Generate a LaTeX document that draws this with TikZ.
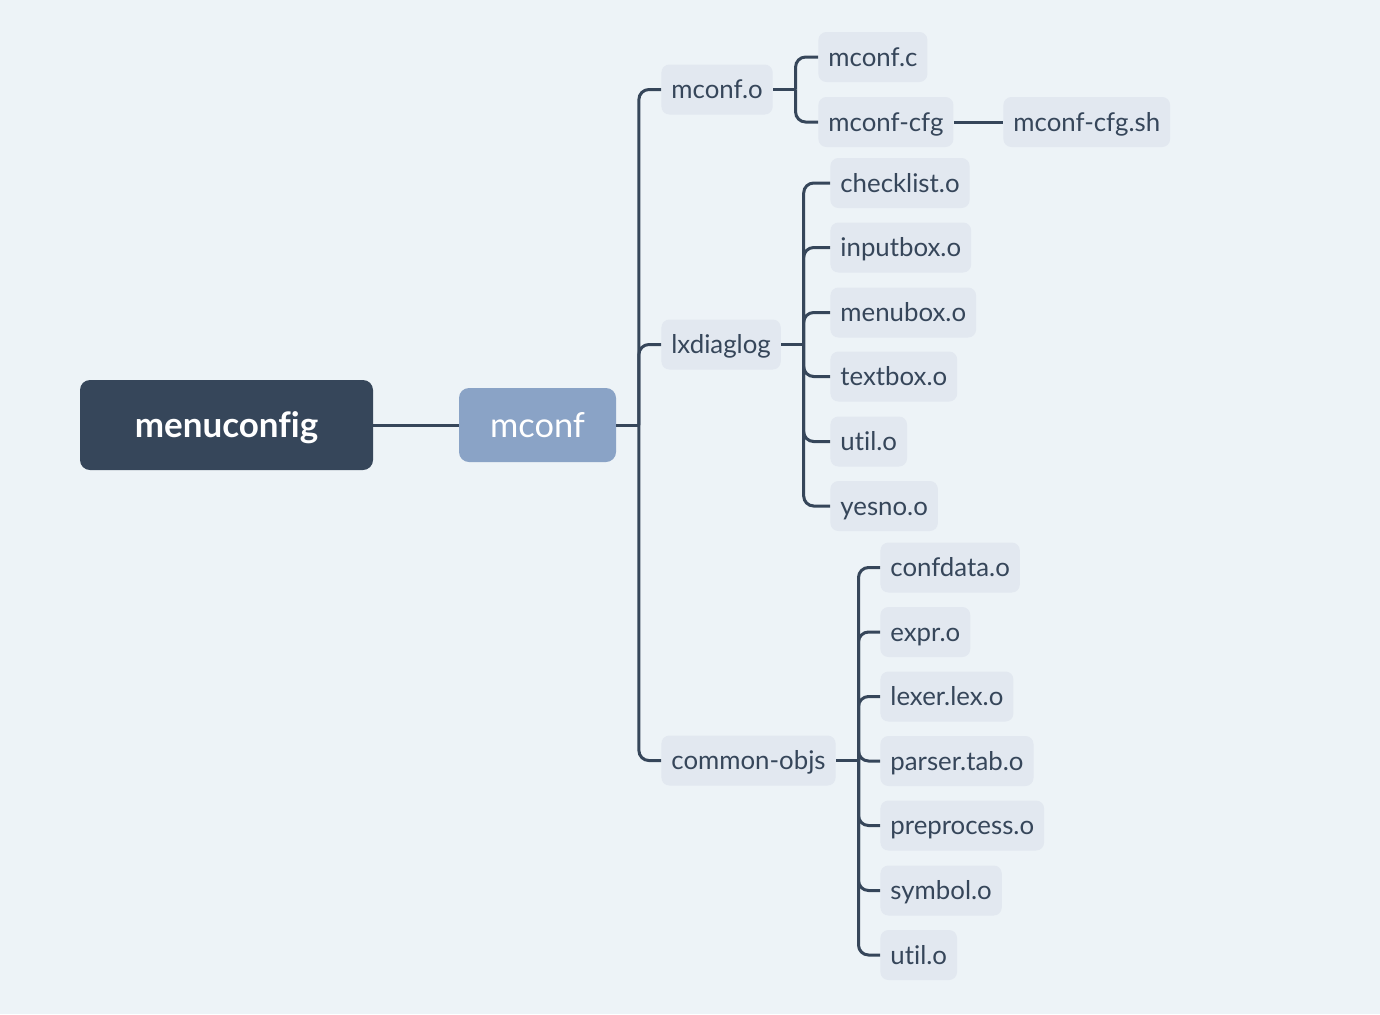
\documentclass[tikz,border=0pt]{standalone}
\usepackage{fontspec}
\setmainfont{Lato}[Ligatures=NoCommon]
\definecolor{bgcol}{HTML}{EDF3F7}
\definecolor{leafcol}{HTML}{E2E8F0}
\definecolor{inkcol}{HTML}{36465A}
\definecolor{subcol}{HTML}{8AA3C6}
\tikzset{
	leaf/.style={fill=leafcol, text=inkcol, rounded corners=4pt, anchor=west, minimum height=25pt, inner xsep=5pt, text height=11pt, text depth=2pt, font=\fontsize{12.9}{15}\selectfont},
	branch/.style={draw=inkcol, line width=1.5pt, rounded corners=5pt},
}
\begin{document}
\begin{tikzpicture}[x=0.5pt, y=-0.5pt]
		\fill[bgcol] (0,0) rectangle (1380,1014);
		\useasboundingbox (0,0) rectangle (1380,1014);
		%root and first level
		\node[fill=inkcol, text=white, rounded corners=5pt, minimum width=146.5pt, minimum height=45pt, text height=14pt, text depth=1.5pt, font=\bfseries\fontsize{17.5}{20}\selectfont] (root) at (226.5,425) {menuconfig};
		\node[fill=subcol, text=white, rounded corners=5pt, minimum width=78.5pt, minimum height=37pt, text height=14pt, text depth=1.5pt, font=\fontsize{17.2}{20}\selectfont] (mconf) at (537.5,425) {mconf};
		%second level
		\node[leaf] (mconfo) at (661,89.5) {mconf.o};
		\node[leaf] (lxdiag) at (661,344.5) {lxdiaglog};
		\node[leaf] (common) at (661,760.5) {common-objs};
		%below mconf.o
		\node[leaf] (mconfc) at (818,57) {mconf.c};
		\node[leaf] (mconfcfg) at (818,122) {mconf-cfg};
		\node[leaf] (cfgsh) at (1003,122) {mconf-cfg.sh};
		%below lxdiaglog
		\node[leaf] (checklist) at (830,183) {checklist.o};
		\node[leaf] (inputbox) at (830,247.5) {inputbox.o};
		\node[leaf] (menubox) at (830,312.5) {menubox.o};
		\node[leaf] (textbox) at (830,376.5) {textbox.o};
		\node[leaf] (utila) at (830,441.5) {util.o};
		\node[leaf] (yesno) at (830,506) {yesno.o};
		%below common-objs
		\node[leaf] (confdata) at (880,567.5) {confdata.o};
		\node[leaf] (expr) at (880,632) {expr.o};
		\node[leaf] (lexer) at (880,696.5) {lexer.lex.o};
		\node[leaf] (parser) at (880,761) {parser.tab.o};
		\node[leaf] (preproc) at (880,825.5) {preprocess.o};
		\node[leaf] (symbol) at (880,890.5) {symbol.o};
		\node[leaf] (utilb) at (880,955) {util.o};

		%connectors
		\draw[branch] (root) -- (mconf);
		\draw[branch] (mconfcfg) -- (cfgsh);
		\foreach \p/\kids in {mconf/{mconfo,lxdiag,common}, mconfo/{mconfc,mconfcfg}, lxdiag/{checklist,inputbox,menubox,textbox,utila,yesno}, common/{confdata,expr,lexer,parser,preproc,symbol,utilb}}{
			\path (\p.east) ++(22.5,0) coordinate (\p J);
			\draw[branch] (\p.east) -- (\p J);
			\foreach \k in \kids
				\draw[branch] (\p J) |- (\k.west);
		}
\end{tikzpicture}
\end{document}
